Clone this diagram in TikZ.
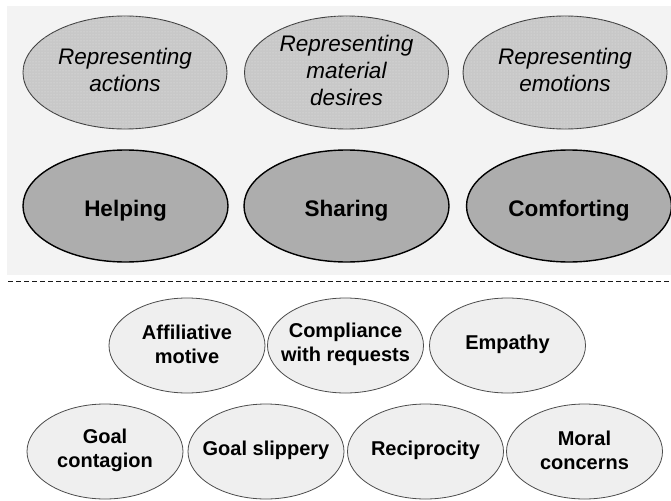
\documentclass[tikz,border=0pt]{standalone}
\usepackage{fontspec}
\setmainfont{Liberation Sans}
\usetikzlibrary{shapes.geometric,patterns}
\definecolor{panelbg}{HTML}{F3F3F3}
\definecolor{repfill}{HTML}{C8C8C8}
\definecolor{behfill}{HTML}{ADADAD}
\definecolor{motfill}{HTML}{EFEFEF}
\begin{document}
\begin{tikzpicture}[x=1pt,y=-1pt,
  repell/.style={ellipse, draw=black!75, line width=0.9pt, fill=repfill,
    postaction={pattern=dots, pattern color=white!55!repfill},
    minimum width=204pt, minimum height=113pt, inner sep=0pt},
  behell/.style={ellipse, draw=black, line width=1.4pt, fill=behfill,
    minimum width=205pt, minimum height=112pt, inner sep=0pt},
  motell/.style={ellipse, draw=black!70, line width=0.8pt, fill=motfill,
    minimum width=156pt, minimum height=95pt, inner sep=0pt},
  reptxt/.style={align=center, font=\fontsize{22.5}{27}\selectfont\itshape, inner sep=0pt, yshift=2.5pt},
  behtxt/.style={align=center, font=\fontsize{22.5}{27}\selectfont\bfseries, inner sep=0pt, yshift=-5pt},
  mottxt/.style={align=center, font=\fontsize{20}{24}\selectfont\bfseries, inner sep=0pt, yshift=1pt},
  sepline/.style={line width=1.7pt, dash pattern=on 5pt off 3pt, black!90}
]
\useasboundingbox (0,0) rectangle (671,500);
\fill[panelbg] (7,6) rectangle (671,275);

% representing row
\node[repell] (ra) at (125,72.5) {};
\node[repell] (rm) at (346.5,72.5) {};
\node[repell] (re) at (565,72.5) {};
\node[reptxt] (rat) at (ra) {Representing\\actions};
\node[reptxt] (rmt) at (rm) {Representing\\material\\desires};
\node[reptxt] (ret) at (re) {Representing\\emotions};

% behaviours row
\node[behell] (bh) at (125.5,206) {};
\node[behell] (bs) at (346.5,206) {};
\node[behell] (bc) at (569,206) {};
\node[behtxt] (bht) at (bh) {Helping};
\node[behtxt] (bst) at (bs) {Sharing};
\node[behtxt] (bct) at (bc) {Comforting};

% separator
\coordinate (dl) at (8,281.5);
\coordinate (dr) at (671,281.5);
\draw[sepline] (dl) -- (dr);

% motivations
\node[motell] (m1) at (187,345.5) {};
\node[motell] (m2) at (345.5,345.5) {};
\node[motell] (m3) at (507.5,345.5) {};
\node[motell] (m4) at (105,451.5) {};
\node[motell] (m5) at (266,451.5) {};
\node[motell] (m6) at (425.5,451.5) {};
\node[motell] (m7) at (584.5,451.5) {};
\node[mottxt] (m1t) at (m1) {Affiliative\\motive};
\node[mottxt] (m2t) at (m2) {Compliance\\with requests};
\node[mottxt] (m3t) at (m3) {Empathy};
\node[mottxt] (m4t) at (m4) {Goal\\contagion};
\node[mottxt] (m5t) at (m5) {Goal slippery};
\node[mottxt] (m6t) at (m6) {Reciprocity};
\node[mottxt] (m7t) at (m7) {Moral\\concerns};
\end{tikzpicture}
\end{document}
